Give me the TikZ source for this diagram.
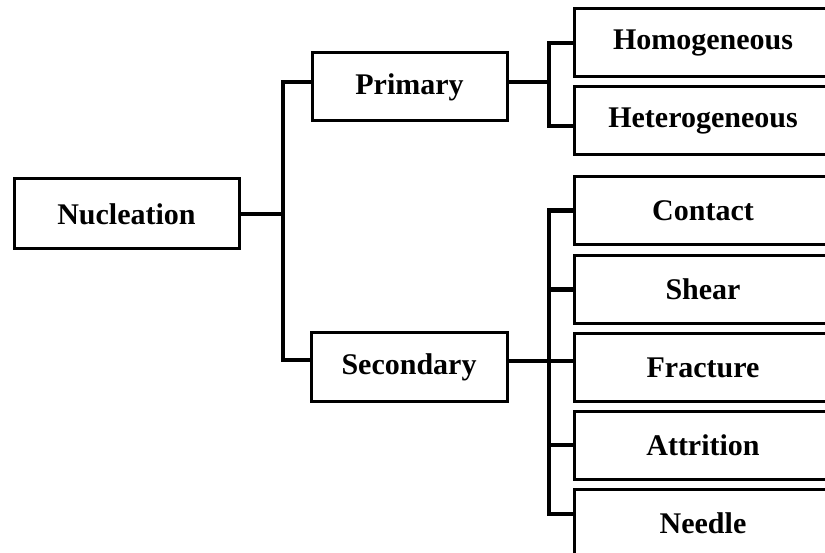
\documentclass[tikz,border=0pt]{standalone}
\usepackage{fontspec}
\setmainfont{Liberation Serif}
\begin{document}
\begin{tikzpicture}[x=1pt,y=-1pt,
	box/.style={draw,line width=3pt,fill=white,inner sep=0pt,minimum height=68pt,font=\fontsize{30}{36}\selectfont\bfseries},
	leaf/.style={box,minimum width=258pt},
	link/.style={line width=4.5pt}]
	\useasboundingbox (0,0) rectangle (825,553);
	\clip (0,0) rectangle (825,553);
	%\draw[lightgray] (0,0) grid[step=50] (825,553);
	\node[box,minimum width=225pt,minimum height=70pt] (nuc) at (126.5,214) {Nucleation};
	\node[box,minimum width=195pt] (prim) at (409.5,87) {Primary};
	\node[box,minimum width=196pt] (sec) at (409,367) {Secondary};
	\node[leaf] (homo) at (703,43) {Homogeneous};
	\node[leaf] (hete) at (703,121) {Heterogeneous};
	\node[leaf] (cont) at (703,210.5) {Contact};
	\node[leaf] (shear) at (703,289.5) {Shear};
	\node[leaf] (fract) at (703,367.5) {Fracture};
	\node[leaf] (attr) at (703,445) {Attrition};
	\node[leaf] (needle) at (703,523) {Needle};
	\coordinate (trunk) at (283,0);
	\coordinate (brk) at (549,0);
	\coordinate (pl) at ([yshift=5pt]prim.west);
	\coordinate (pr) at ([yshift=5pt]prim.east);
	\coordinate (sl) at ([yshift=7pt]sec.west);
	\coordinate (sr) at ([yshift=6pt]sec.east);
	\coordinate (hl) at ([yshift=-5pt]hete.west);
	\coordinate (nl) at ([yshift=9pt]needle.west);
	\draw[link] (nuc.east) -- (nuc.east -| trunk);
	\draw[link] (pl) -| (trunk |- sl) -- (sl);
	\draw[link] (pr) -- (pr -| brk);
	\draw[link] (homo.west) -| (brk |- hl) -- (hl);
	\draw[link] (sr) -- (sr -| fract.west);
	\draw[link] (cont.west) -| (brk |- nl) -- (nl);
	\draw[link] (shear.west -| brk) -- (shear.west);
	\draw[link] (attr.west -| brk) -- (attr.west);
\end{tikzpicture}
\end{document}
